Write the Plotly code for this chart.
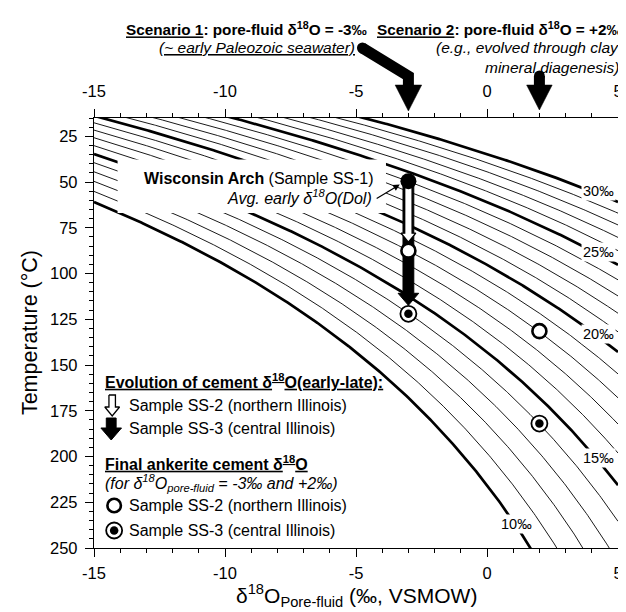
import numpy as np
import plotly.graph_objects as go

# ---------------- data ----------------
x_range = [-15, 5]
t_range = [15, 250]
x_tick_vals = [-15, -10, -5, 0, 5]
x_tick_text = ["-15", "-10", "-5", "0", "5"]
t_tick_vals = [25, 50, 75, 100, 125, 150, 175, 200, 225, 250]
t_tick_text = ["25", "50", "75", "100", "125", "150", "175", "200", "225", "250"]

# dolomite-water fractionation: 1000 ln a = a*10^6/T^2 + b (T in K)
frac_a = 3.14
frac_b = -3.14
dol_isopleths = list(range(10, 31))          # d18O dolomite, permil VSMOW
dol_labelled = [10, 15, 20, 25, 30]
dol_label_text = ["10‰", "15‰", "20‰", "25‰", "30‰"]
dol_label_fluid = [1.13, 4.26, 4.26, 4.26, 4.26]

scenario_fluid = [-3, 2]                      # pore-fluid d18O, scenario 1 / 2
early_temp = [49.5]                           # Wisconsin Arch (SS-1) early dolomite, scenario 1
ss2_temp = [87.5, 131.5]                      # final ankerite SS-2, scenario 1 / 2
ss3_temp = [122.0, 182.0]                     # final ankerite SS-3, scenario 1 / 2

# ---------------- geometry helpers ----------------
W, H = 626, 612
ML, MR, MT, MB = 86, 7, 110, 72
PW = W - ML - MR
PH = H - MT - MB
XS = (x_range[1] - x_range[0]) / PW
TS = (t_range[1] - t_range[0]) / PH


def px2x(px):
    return x_range[0] + (px - ML) * XS


def py2t(py):
    return t_range[0] + (py - MT) * TS


def x2px(x):
    return ML + (x - x_range[0]) / XS


def t2py(t):
    return MT + (t - t_range[0]) / TS


def ppx(px):
    return (px - ML) / PW


def ppy(py):
    return (H - MB - py) / PH


def iso_temp(d, x):
    return np.sqrt(frac_a * 1e6 / (d - x - frac_b)) - 273.15


def down_arrow(cx, y0, y1, shw, hhw, hl):
    yb = y1 - hl
    pts = [(cx - shw, y0), (cx + shw, y0), (cx + shw, yb), (cx + hhw, yb),
           (cx, y1), (cx - hhw, yb), (cx - shw, yb), (cx - shw, y0)]
    return [px2x(p[0]) for p in pts], [py2t(p[1]) for p in pts]


FONT = "Liberation Sans, Arial, Helvetica, sans-serif"
fig = go.Figure()

# isopleths
xs = np.linspace(x_range[0], x_range[1], 400)
for d in dol_isopleths:
    bold = d in dol_labelled
    fig.add_trace(go.Scatter(
        x=xs, y=iso_temp(d, xs), mode="lines",
        line=dict(color="black", width=2.7 if bold else 0.9),
        hoverinfo="skip", showlegend=False))

# white mask behind Wisconsin Arch label
mx = [px2x(110), px2x(383), px2x(383), px2x(110), px2x(110)]
my = [py2t(151.5), py2t(151.5), py2t(205), py2t(205), py2t(151.5)]
fig.add_trace(go.Scatter(x=mx, y=my, mode="lines", fill="toself",
                         fillcolor="white", line=dict(width=0, color="white"),
                         hoverinfo="skip", showlegend=False))

# evolution arrows at scenario 1
cx = x2px(scenario_fluid[0])
ax_, ay_ = down_arrow(cx, t2py(early_temp[0]), t2py(ss3_temp[0]) - 8.5, 5.5, 10.5, 12)
fig.add_trace(go.Scatter(x=ax_, y=ay_, mode="lines", fill="toself", fillcolor="black",
                         line=dict(color="black", width=1), hoverinfo="skip", showlegend=False))
ax_, ay_ = down_arrow(cx, t2py(early_temp[0]), t2py(ss2_temp[0]) - 8.5, 3.8, 7.5, 9)
fig.add_trace(go.Scatter(x=ax_, y=ay_, mode="lines", fill="toself", fillcolor="white",
                         line=dict(color="black", width=1.4), hoverinfo="skip", showlegend=False))

# markers
fig.add_trace(go.Scatter(x=[scenario_fluid[0]], y=early_temp, mode="markers",
                         marker=dict(size=16, color="black", line=dict(width=0)),
                         hoverinfo="skip", showlegend=False))
fig.add_trace(go.Scatter(x=scenario_fluid, y=ss2_temp, mode="markers",
                         marker=dict(size=14, color="white", line=dict(width=2.6, color="black")),
                         hoverinfo="skip", showlegend=False))
fig.add_trace(go.Scatter(x=scenario_fluid, y=ss3_temp, mode="markers",
                         marker=dict(size=16, color="white", line=dict(width=1.8, color="black")),
                         hoverinfo="skip", showlegend=False))
fig.add_trace(go.Scatter(x=scenario_fluid, y=ss3_temp, mode="markers",
                         marker=dict(size=8.5, color="black", line=dict(width=0)),
                         hoverinfo="skip", showlegend=False))

# legend icons
ax_, ay_ = down_arrow(104.5, 387, 408, 3.3, 7.5, 9)
fig.add_trace(go.Scatter(x=ax_, y=ay_, mode="lines", fill="toself", fillcolor="white",
                         line=dict(color="black", width=1.3), hoverinfo="skip", showlegend=False))
ax_, ay_ = down_arrow(103.5, 410, 432, 5, 10.5, 12)
fig.add_trace(go.Scatter(x=ax_, y=ay_, mode="lines", fill="toself", fillcolor="black",
                         line=dict(color="black", width=1), hoverinfo="skip", showlegend=False))
fig.add_trace(go.Scatter(x=[px2x(106.5)], y=[py2t(497.5)], mode="markers",
                         marker=dict(size=13.5, color="white", line=dict(width=2.6, color="black")),
                         hoverinfo="skip", showlegend=False))
fig.add_trace(go.Scatter(x=[px2x(106.5)], y=[py2t(522.5)], mode="markers",
                         marker=dict(size=16, color="white", line=dict(width=1.8, color="black")),
                         hoverinfo="skip", showlegend=False))
fig.add_trace(go.Scatter(x=[px2x(106.5)], y=[py2t(522.5)], mode="markers",
                         marker=dict(size=8.5, color="black", line=dict(width=0)),
                         hoverinfo="skip", showlegend=False))

# dummy trace for top axis
fig.add_trace(go.Scatter(x=x_range, y=[t_range[1], t_range[1]], xaxis="x2", mode="markers",
                         marker=dict(opacity=0), hoverinfo="skip", showlegend=False))

annotations = []


def ann(text, px, py, xanchor="left", size=16, **kw):
    annotations.append(dict(text=text, x=ppx(px), y=ppy(py), xref="paper", yref="paper",
                            xanchor=xanchor, yanchor="middle", showarrow=False,
                            font=dict(family=FONT, size=size, color="black"), **kw))


# isopleth labels
for d, t, fx in zip(dol_labelled, dol_label_text, dol_label_fluid):
    annotations.append(dict(text=t, x=fx, y=float(iso_temp(d, fx)) - 1.5, xref="x", yref="y",
                            showarrow=False, bgcolor="white", borderpad=1,
                            font=dict(family=FONT, size=14.5, color="black")))

UL = '<span style="text-decoration:underline">'
# scenario titles
ann("<b>" + UL + "Scenario 1</span>: pore-fluid δ<sup>18</sup>O = -3‰</b>", 366, 20, "right", size=15.3)
ann("<i>" + UL + "(~ early Paleozoic seawater)</span></i>", 354, 39.5, "right", size=15.5)
ann("<b>" + UL + "Scenario 2</span>: pore-fluid δ<sup>18</sup>O = +2‰</b>", 625, 20, "right", size=15.3)
ann("<i>(e.g., evolved through clay</i>", 622, 39.5, "right", size=15.5)
ann("<i>mineral diagenesis)</i>", 622, 59.5, "right", size=15.5)

# Wisconsin Arch label
ann("<b>Wisconsin Arch</b> (Sample SS-1)", 373, 170, "right")
ann("<i>Avg. early δ<sup>18</sup>O(Dol)</i>", 371, 189, "right")
annotations.append(dict(text="", x=px2x(397), y=py2t(176.5), xref="x", yref="y",
                        ax=px2x(372), ay=py2t(191.5), axref="x", ayref="y",
                        showarrow=True, arrowhead=2, arrowsize=1.1, arrowwidth=1.2,
                        arrowcolor="black", standoff=0))

# legend text
ann("<b>" + UL + "Evolution of cement δ<sup>18</sup>O(early-late):</span></b>", 95, 373)
ann("Sample SS-2 (northern Illinois)", 120, 397)
ann("Sample SS-3 (central Illinois)", 120, 420)
ann("<b>" + UL + "Final ankerite cement δ<sup>18</sup>O</span></b>", 95, 455)
ann("<i>(for δ<sup>18</sup>O<sub>pore-fluid</sub> = -3‰ and +2‰)</i>", 95, 475)
ann("Sample SS-2 (northern Illinois)", 120, 497.5)
ann("Sample SS-3 (central Illinois)", 120, 522.5)

# axis titles
ann("δ<sup>18</sup>O<sub>Pore-fluid</sub> (‰, VSMOW)", ML + PW / 2, 587, "center", size=21)
annotations.append(dict(text="Temperature (°C)", x=ppx(21), y=ppy(MT + PH / 2), xref="paper",
                        yref="paper", xanchor="center", yanchor="middle", textangle=-90,
                        showarrow=False, font=dict(family=FONT, size=21.5, color="black")))

# scenario arrows (outside plot)
shapes = []
s1x = x2px(scenario_fluid[0])
s2x = x2px(scenario_fluid[1])
shapes.append(dict(type="path", xref="paper", yref="paper", layer="above",
                   path=f"M {ppx(359)},{ppy(40)} L {ppx(s1x)},{ppy(68)} L {ppx(s1x)},{ppy(79)}",
                   line=dict(color="black", width=11)))
shapes.append(dict(type="circle", xref="paper", yref="paper", layer="above",
                   x0=ppx(359 - 5.5), x1=ppx(359 + 5.5), y0=ppy(40 - 5.5), y1=ppy(40 + 5.5),
                   fillcolor="black", line=dict(width=0)))
shapes.append(dict(type="path", xref="paper", yref="paper", layer="above",
                   path=f"M {ppx(s1x - 13.5)},{ppy(77)} L {ppx(s1x + 13.5)},{ppy(77)} L {ppx(s1x)},{ppy(103)} Z",
                   fillcolor="black", line=dict(color="black", width=0.5)))
shapes.append(dict(type="line", xref="paper", yref="paper", layer="above",
                   x0=ppx(s2x), x1=ppx(s2x), y0=ppy(68), y1=ppy(79),
                   line=dict(color="black", width=11)))
shapes.append(dict(type="circle", xref="paper", yref="paper", layer="above",
                   x0=ppx(s2x - 5.5), x1=ppx(s2x + 5.5), y0=ppy(68 - 5.5), y1=ppy(68 + 5.5),
                   fillcolor="black", line=dict(width=0)))
shapes.append(dict(type="path", xref="paper", yref="paper", layer="above",
                   path=f"M {ppx(s2x - 13)},{ppy(77)} L {ppx(s2x + 13)},{ppy(77)} L {ppx(s2x)},{ppy(102)} Z",
                   fillcolor="black", line=dict(color="black", width=0.5)))

axis_common = dict(showline=True, linecolor="black", linewidth=1.3, ticks="outside",
                   ticklen=8, tickwidth=1.3, tickcolor="black", showgrid=False, zeroline=False,
                   tickfont=dict(family=FONT, size=16.5, color="black"))

fig.update_layout(
    width=W, height=H,
    margin=dict(l=ML, r=MR, t=MT, b=MB),
    plot_bgcolor="white", paper_bgcolor="white",
    showlegend=False,
    font=dict(family=FONT, size=16, color="black"),
    xaxis=dict(range=x_range, tickmode="array", tickvals=x_tick_vals, ticktext=x_tick_text,
               ticklabelstandoff=2,
               minor=dict(ticks="outside", ticklen=4, tickwidth=1.1, tickcolor="black",
                          tickmode="linear", tick0=0, dtick=1),
               **axis_common),
    xaxis2=dict(range=x_range, overlaying="x", side="top", anchor="y",
                tickmode="array", tickvals=x_tick_vals, ticktext=x_tick_text,
                ticklabelstandoff=5,
                minor=dict(ticks="outside", ticklen=4, tickwidth=1.1, tickcolor="black",
                           tickmode="linear", tick0=0, dtick=1),
                **axis_common),
    yaxis=dict(range=[t_range[1], t_range[0]], tickmode="array", tickvals=t_tick_vals,
               ticktext=t_tick_text, mirror="ticks", ticklabelstandoff=4,
               minor=dict(ticks="outside", ticklen=4, tickwidth=1.1, tickcolor="black",
                          tickmode="linear", tick0=0, dtick=5),
               **axis_common),
    annotations=annotations,
    shapes=shapes,
)

fig.write_html("out.html")
